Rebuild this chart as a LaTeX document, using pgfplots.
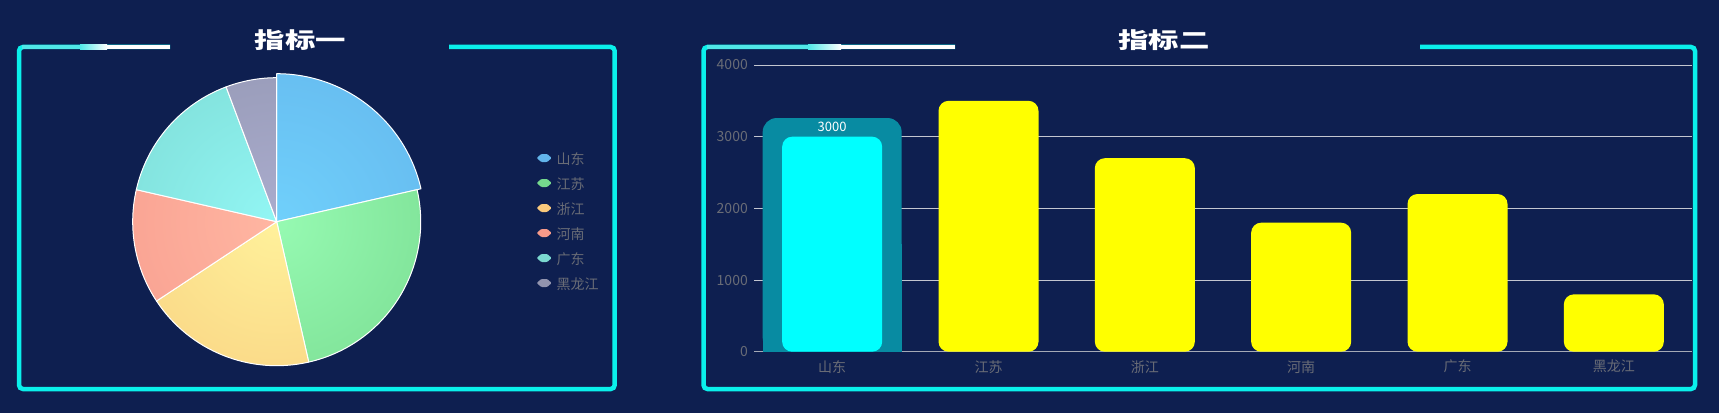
\documentclass[border=0pt]{standalone}
\usepackage{fontspec}
\setmainfont{Noto Sans CJK SC}
\usepackage{pgfplots}
\usepackage{pgfplotstable}
\pgfplotsset{compat=1.18}
\definecolor{bgnavy}{RGB}{14,31,80}
\definecolor{framecyan}{RGB}{10,240,235}
\definecolor{toplinecyan}{RGB}{80,232,232}
\definecolor{labelgray}{RGB}{105,108,118}
\definecolor{gridgray}{RGB}{195,198,208}
\definecolor{axisgray}{RGB}{165,170,182}
\definecolor{bgteal}{RGB}{8,139,162}
\definecolor{barcyan}{RGB}{0,255,255}
\definecolor{baryellow}{RGB}{255,255,0}
\definecolor{c0in}{RGB}{112,208,251}\definecolor{c0out}{RGB}{96,174,232}
\definecolor{c1in}{RGB}{150,250,178}\definecolor{c1out}{RGB}{112,210,134}
\definecolor{c2in}{RGB}{255,241,155}\definecolor{c2out}{RGB}{246,198,120}
\definecolor{c3in}{RGB}{255,182,162}\definecolor{c3out}{RGB}{245,148,135}
\definecolor{c4in}{RGB}{146,246,244}\definecolor{c4out}{RGB}{118,210,202}
\definecolor{c5in}{RGB}{170,172,205}\definecolor{c5out}{RGB}{140,144,170}
\definecolor{l0}{RGB}{98,180,234}
\definecolor{l1}{RGB}{117,217,141}
\definecolor{l2}{RGB}{250,201,124}
\definecolor{l3}{RGB}{247,154,138}
\definecolor{l4}{RGB}{123,216,208}
\definecolor{l5}{RGB}{146,148,174}

\pgfplotstableread{
value rad cin cout
3000 148 c0in c0out
3500 144 c1in c1out
2700 144 c2in c2out
1800 144 c3in c3out
2200 144 c4in c4out
800 144 c5in c5out
}\piedata

\begin{document}
\begin{tikzpicture}
\fill[bgnavy] (0pt,0pt) rectangle (1719pt,413pt);
\useasboundingbox (0pt,0pt) rectangle (1719pt,413pt);

% ---------- frames ----------
\draw[framecyan, line width=4.5pt, rounded corners=4pt]
  (170pt,366pt) -- (19pt,366pt) -- (19pt,24pt) -- (614.7pt,24pt) -- (614.7pt,366pt) -- (449pt,366pt);
\fill[toplinecyan] (22pt,363.75pt) rectangle (80pt,368.25pt);
\shade[left color=toplinecyan, right color=white] (80pt,363.75pt) rectangle (107pt,368.25pt);
\fill[white] (107pt,363.75pt) rectangle (170pt,368.25pt);

\draw[framecyan, line width=4.5pt, rounded corners=4pt]
  (955pt,366pt) -- (703.5pt,366pt) -- (703.5pt,24pt) -- (1695pt,24pt) -- (1695pt,366pt) -- (1420pt,366pt);
\fill[toplinecyan] (706.5pt,363.75pt) rectangle (808pt,368.25pt);
\shade[left color=toplinecyan, right color=white] (808pt,363.75pt) rectangle (841pt,368.25pt);
\fill[white] (841pt,363.75pt) rectangle (955pt,368.25pt);

\node[text=white, font=\bfseries\fontsize{22}{24}\selectfont, xscale=1.38] at (300.5pt,373pt) {指标一};
\node[text=white, font=\bfseries\fontsize{22}{24}\selectfont, xscale=1.38] at (1164pt,373pt) {指标二};

% ---------- pie ----------
\begin{axis}[
  at={(276.7pt,191.3pt)}, anchor=center,
  scale only axis, width=300pt, height=300pt,
  xmin=-150, xmax=150, ymin=-150, ymax=150,
  hide axis, clip=false,
  legend image code/.code={\fill[#1, rounded corners=1pt] (0pt,1pt) -- (4.5pt,5pt) -- (10.5pt,5pt) -- (15pt,1pt) -- (10.5pt,-3pt) -- (4.5pt,-3pt) -- cycle;},
  legend cell align=left,
  legend style={at={(axis cs:260,69.7)}, anchor=north west, draw=none, fill=none,
    inner sep=0pt, outer sep=0pt,
    font=\fontsize{14}{14}\selectfont, text=labelgray,
    nodes={inner sep=0pt, text height=12pt, text depth=2pt},
    row sep=11pt, column sep=5pt},
]
\pgfplotsextra{
  \gdef\pietotal{0}
  \pgfplotstableforeachcolumnelement{value}\of\piedata\as\v{%
    \pgfmathsetmacro\tmp{\pietotal+\v}\xdef\pietotal{\tmp}}
  \gdef\curang{90}
  \foreach \i in {0,...,5}{
    \pgfplotstablegetelem{\i}{value}\of\piedata \pgfmathsetmacro\val{\pgfplotsretval}
    \pgfplotstablegetelem{\i}{rad}\of\piedata \edef\rad{\pgfplotsretval}
    \pgfplotstablegetelem{\i}{cin}\of\piedata \edef\cin{\pgfplotsretval}
    \pgfplotstablegetelem{\i}{cout}\of\piedata \edef\cout{\pgfplotsretval}
    \pgfmathsetmacro\endang{\curang - \val/\pietotal*360}
    \pgfmathsetmacro\rr{2*\rad}
    \begin{scope}
      \clip (axis cs:0,0) -- ++(\curang:\rad pt) arc[start angle=\curang, end angle=\endang, radius=\rad pt] -- cycle;
      \shade[inner color=\cin, outer color=\cout] (axis cs:0,0) circle (\rr pt);
    \end{scope}
    \draw[white, line width=1pt, line join=round] (axis cs:0,0) -- ++(\curang:\rad pt) arc[start angle=\curang, end angle=\endang, radius=\rad pt] -- cycle;
    \xdef\curang{\endang}
  }
}
\addlegendimage{fill=l0, draw=none}\addlegendentry{山东}
\addlegendimage{fill=l1, draw=none}\addlegendentry{江苏}
\addlegendimage{fill=l2, draw=none}\addlegendentry{浙江}
\addlegendimage{fill=l3, draw=none}\addlegendentry{河南}
\addlegendimage{fill=l4, draw=none}\addlegendentry{广东}
\addlegendimage{fill=l5, draw=none}\addlegendentry{黑龙江}
\end{axis}

% ---------- bars ----------
\begin{axis}[
  at={(754pt,61.3pt)}, anchor=south west,
  scale only axis, width=938pt, height=286.7pt,
  xmin=-0.5, xmax=5.5, ymin=0, ymax=4000,
  ytick={0,1000,2000,3000,4000},
  xtick={0,1,2,3,4,5},
  xticklabels={山东,江苏,浙江,河南,广东,黑龙江},
  x tick style={draw=none},
  extra x ticks={-0.5,0.5,1.5,2.5,3.5,4.5,5.5},
  extra x tick labels={},
  extra x tick style={major tick length=4pt, tick align=outside, tick style={draw=axisgray, line width=0.8pt}, grid=none},
  axis x line*=bottom, axis y line*=left,
  y axis line style={draw=none},
  x axis line style={draw=axisgray, line width=0.8pt, -},
  y tick style={draw=none},
  ymajorgrids, grid style={gridgray, line width=0.8pt},
  /pgf/number format/assume math mode=true,
  /pgf/number format/1000 sep={},
  scaled y ticks=false,
  ticklabel style={font=\fontsize{14}{14}\selectfont, text=labelgray},
  yticklabel style={anchor=east, inner sep=0pt, xshift=-6pt},
  xticklabel style={anchor=center, inner sep=0pt, yshift=-15pt},
]
\addplot[ybar, bar width=139pt, bar shift=0pt, fill=bgteal, draw=none, rounded corners=14pt] coordinates {(0,3260)};
\addplot[ybar, bar width=139pt, bar shift=0pt, fill=bgteal, draw=none] coordinates {(0,1500)};
\addplot[ybar, bar width=100pt, bar shift=0pt, fill=barcyan, draw=none, rounded corners=10pt,
  nodes near coords,
  every node near coord/.append style={text=white, font=\fontsize{13}{13}\selectfont, anchor=center, yshift=10pt, rounded corners=0pt}]
  coordinates {(0,3000)};
\addplot[ybar, bar width=100pt, bar shift=0pt, fill=baryellow, draw=none, rounded corners=10pt]
  coordinates {(1,3500) (2,2700) (3,1800) (4,2200) (5,800)};
\end{axis}
\end{tikzpicture}
\end{document}
